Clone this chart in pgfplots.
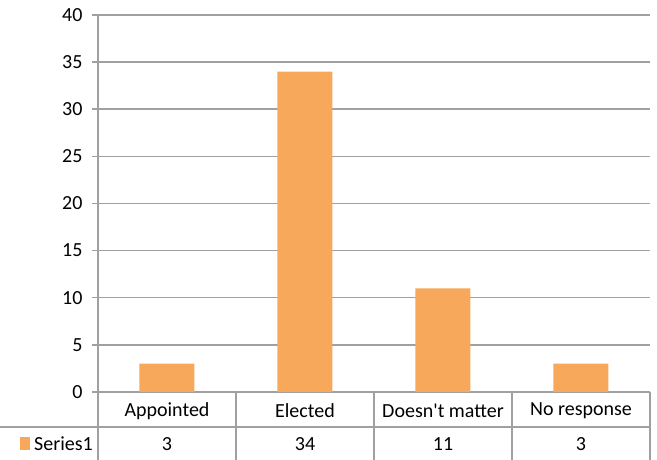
\documentclass[border=0pt]{standalone}
\usepackage{pgfplots}
\pgfplotsset{compat=1.18}
\usepackage{fontspec}
\setmainfont{Carlito}[Ligatures=TeXOff]
\definecolor{gridgray}{HTML}{A0A0A0}
\definecolor{barorange}{HTML}{F8A85A}
\begin{document}
\begin{tikzpicture}[font=\fontsize{20}{24}\selectfont]
\path[use as bounding box] (-98pt,-68pt) rectangle (559pt,392pt);
\begin{axis}[
  scale only axis, width=552pt, height=377pt,
  xmin=-0.5, xmax=3.5, ymin=0, ymax=40,
  ytick={0,5,...,40},
  xtick=\empty,
  axis x line=bottom, axis y line=left,
  axis line style={-, draw=gridgray, line width=1.5pt},
  ymajorgrids, grid style={draw=gridgray, line width=1.5pt},
  major tick length=6pt, tick align=outside,
  tick style={draw=gridgray, line width=1.5pt},
  /pgf/number format/assume math mode=true,
  yticklabel style={font=\fontsize{20}{24}\selectfont, xshift=-6pt},
  clip=false,
]
\addplot[ybar, bar width=55pt, fill=barorange, draw=none] coordinates {(0,3) (1,34) (2,11) (3,3)};
\node at ([yshift=-19pt]axis cs:0,0) {Appointed};
\node at ([yshift=-19pt]axis cs:1,0) {Elected};
\node at ([yshift=-19pt]axis cs:2,0) {Doesn't matter};
\node at ([yshift=-19pt]axis cs:3,0) {No response};
\node at ([yshift=-52pt]axis cs:0,0) {3};
\node at ([yshift=-52pt]axis cs:1,0) {34};
\node at ([yshift=-52pt]axis cs:2,0) {11};
\node at ([yshift=-52pt]axis cs:3,0) {3};
\end{axis}
\begin{scope}[draw=gridgray, line width=1.5pt]
\draw (0,0) -- (0,-68pt);
\draw (138pt,0) -- (138pt,-68pt);
\draw (276pt,0) -- (276pt,-68pt);
\draw (414pt,0) -- (414pt,-68pt);
\draw (552pt,0) -- (552pt,-68pt);
\draw (-98pt,-35pt) -- (552pt,-35pt);
\end{scope}
\fill[barorange] (-78pt,-58pt) rectangle (-68pt,-45pt);
\node[anchor=west, inner sep=0pt] at (-64pt,-52pt) {Series1};
\end{tikzpicture}
\end{document}
